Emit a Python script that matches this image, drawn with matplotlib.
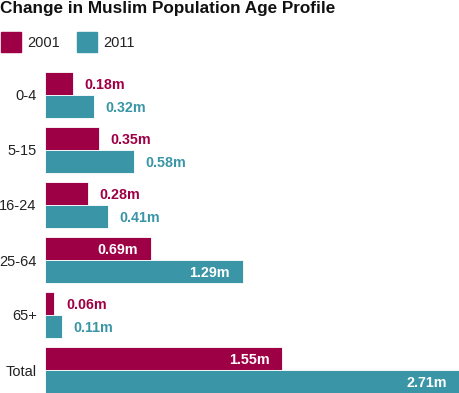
import numpy as np
import matplotlib.pyplot as plt

plt.rcParams['font.family'] = ['Liberation Sans', 'DejaVu Sans']

# data
groups = ["0-4", "5-15", "16-24", "25-64", "65+", "Total"]
pop_2001 = [0.18, 0.35, 0.28, 0.69, 0.06, 1.55]
pop_2011 = [0.32, 0.58, 0.41, 1.29, 0.11, 2.71]
series = ["2001", "2011"]
colors = ["#9e0046", "#3a96a6"]

W, H = 460, 393
fig = plt.figure(figsize=(W / 100, H / 100), dpi=100)

# axes area in pixels: x 45..460, y 72..393
ax = fig.add_axes([45 / W, 0, 415 / W, 321 / H])
bh = 23 / 55
y = np.arange(len(groups))
ax.barh(y - bh / 2, pop_2001, height=bh, color=colors[0], edgecolor="white", linewidth=0.6)
ax.barh(y + bh / 2, pop_2011, height=bh, color=colors[1], edgecolor="white", linewidth=0.6)
ax.set_xlim(0, 2.71)
ax.set_ylim(len(groups) - 1 + bh, -bh)
ax.set_yticks(y)
ax.set_yticklabels(groups, fontsize=10.5, color="#222222")
ax.tick_params(axis="y", length=0, pad=6)
ax.set_xticks([])
for s in ax.spines.values():
    s.set_visible(False)

# value labels
for vals, off, col in [(pop_2001, -bh / 2, colors[0]), (pop_2011, bh / 2, colors[1])]:
    for i, v in enumerate(vals):
        txt = f"{v:.2f}m"
        if v > 0.6:
            ax.annotate(txt, (v, i + off), xytext=(-9, -0.8), textcoords="offset points",
                        ha="right", va="center", fontsize=10.3, fontweight="bold", color="white")
        else:
            ax.annotate(txt, (v, i + off), xytext=(8.5, -0.8), textcoords="offset points",
                        ha="left", va="center", fontsize=10.3, fontweight="bold", color=col)

# title
fig.text(0 / W, 1 - 8 / H, "Change in Muslim Population Age Profile", fontsize=12.3,
         fontweight="bold", ha="left", va="center", color="#111111")

# legend
for k, (lab, x0) in enumerate(zip(series, [1, 77])):
    fig.patches.append(plt.Rectangle((x0 / W, 1 - 52 / H), 20 / W, 20 / H,
                                     transform=fig.transFigure, color=colors[k]))
    fig.text((x0 + 26) / W, 1 - 43 / H, lab, fontsize=10.5, ha="left", va="center",
             color="#222222")

fig.savefig("out.png", dpi=100)
